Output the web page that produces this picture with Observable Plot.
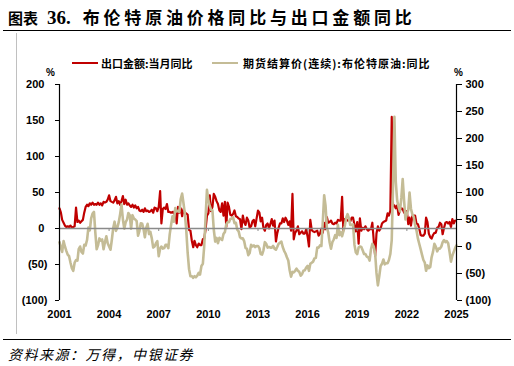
<!DOCTYPE html>
<html>
<head>
<meta charset="utf-8">
<script src="https://cdn.jsdelivr.net/npm/d3@7"></script>
<script src="https://cdn.jsdelivr.net/npm/@observablehq/plot@0.6"></script>
<style>
  html, body { margin: 0; padding: 0; background: #fff; }
  #wrap { position: relative; width: 514px; height: 366px; overflow: hidden; background: #fff; }
  .abs { position: absolute; }
  #title { left: 8px; top: 4px; white-space: nowrap; line-height: 22px; color: #000; }
  #title .a { font: bold 15px "Noto Sans CJK SC", sans-serif; }
  #title .b { font: bold 19px "Liberation Serif", serif; margin-left: 9px; }
  #title .c { font: bold 17px "Noto Sans CJK SC", sans-serif; letter-spacing: 3.8px; margin-left: 12px; }
  .leg { font: bold 11px "Noto Sans CJK SC", sans-serif; color: #000; white-space: nowrap; line-height: 14px; }
  .pct { font: bold 10px "Liberation Sans", Arial, sans-serif; color: #000; }
  #caption { left: 8px; top: 344px; font: italic 14px "Noto Sans CJK SC", sans-serif; letter-spacing: 1.5px; color: #000; white-space: nowrap; }
</style>
</head>
<body>
<div id="wrap">
  <div id="chart" class="abs" style="left:0;top:31px;"></div>
  <div id="title" class="abs"><span class="a">图表</span><span class="b">36.</span><span class="c">布伦特原油价格同比与出口金额同比</span></div>
  <div class="abs" style="left:3px;top:29.5px;width:508px;border-top:1.5px solid #000;"></div>
  <div class="abs" style="left:16px;top:33px;height:301px;border-left:1px solid #c0c0c0;"></div>
  <div class="abs" style="left:3px;top:338.5px;width:508px;border-top:1.5px solid #000;"></div>
  <div class="abs" style="left:72px;top:62px;width:26px;height:2px;background:#C00000;"></div>
  <div class="abs leg" id="leg1" style="left:101px;top:56px;"></div>
  <div class="abs" style="left:212px;top:61.5px;width:26px;height:2.5px;background:#C4BC96;"></div>
  <div class="abs leg" id="leg2" style="left:243px;top:56px;letter-spacing:1px;"></div>
  <div class="abs pct" style="left:46px;top:67px;">%</div>
  <div class="abs pct" style="left:454px;top:67px;">%</div>
  <div id="caption" class="abs">资料来源：万得，中银证券</div>
</div>
<script>
// Series names
const seriesNames = ["出口金额:当月同比", "期货结算价(连续):布伦特原油:同比"];

// 出口金额:当月同比 (%), monthly from 2001-01 (left axis)
const exportsYoY = [
  28, 22, 12, 8, 4, 2, 3, 2, 4, 1, 2, 3,          // 2001
  29, 9, 11, 8, 10, 12, 22, 30, 33, 31, 35, 33,   // 2002
  36, 33, 34, 33, 36, 33, 35, 32, 37, 36, 37, 40, // 2003
  46, 38, 37, 36, 39, 44, 35, 38, 33, 38, 45, 34, // 2004
  40, 33, 35, 32, 30, 33, 29, 32, 28, 30, 25, 24, // 2005
  26, 23, 28, 24, 25, 23, 24, 26, 22, 29, 28, 24, // 2006
  30, 52, 7, 27, 29, 27, 34, 23, 23, 22, 23, 21,  // 2007
  26, 7, 30, 22, 28, 17, 27, 21, 21, 19, -2, -3,  // 2008
  -17, -26, -17, -23, -26, -21, -23, -23, -15, -14, -1, 18, // 2009
  21, 46, 24, 30, 48, 44, 38, 34, 25, 23, 35, 18, // 2010
  37, 2, 36, 30, 19, 18, 20, 25, 17, 16, 14, 13,  // 2011
  -1, 18, 9, 5, 15, 11, 1, 3, 10, 12, 3, 14,      // 2012
  25, 22, 10, 15, 1, -3, 5, 7, 0, 6, 13, 4,       // 2013
  11, -18, -7, 1, 7, 7, 14, 9, 15, 11, 5, 10,     // 2014
  -3, 48, -15, -6, -3, 3, -8, -6, -4, -7, -7, -1, // 2015
  -11, -25, 12, -2, -4, -5, -4, -3, -10, -7, 0, -6, // 2016
  8, -1, 16, 8, 9, 11, 7, 6, 8, 7, 12, 11,        // 2017
  11, 44, -3, 13, 13, 11, 12, 10, 15, 15, 5, -4,  // 2018
  9, -21, 14, -3, 1, -1, 3, -1, -3, -1, -1, 8,    // 2019
  -17, -38, -7, 3, -3, 0, 7, 9, 10, 11, 21, 18,   // 2020
  25, 155, 31, 32, 28, 32, 19, 25, 28, 27, 22, 21, // 2021
  24, 6, 15, 4, 17, 18, 18, 7, 6, 0, -9, -10,     // 2022
  -10, -7, 15, 9, -7, -12, -14, -9, -6, -6, 1, 2, // 2023
  8, 6, -8, 1, 8, 9, 7, 9, 2, 13, 7, 11           // 2024
];

// 期货结算价(连续):布伦特原油:同比 (%), monthly from 2001-01 (right axis)
const brentYoY = [
  8, -2, -10, 10, 0, -8, -15, -18, -30, -40, -45, -30,   // 2001
  -25, -26, -5, 0, -10, -13, 3, 2, 12, 35, 30, 52,       // 2002
  61, 64, 28, -5, 2, 15, 11, 13, -5, 8, 19, 6,           // 2003
  0, -6, 12, 34, 46, 29, 35, 45, 60, 78, 50, 33,         // 2004
  45, 50, 62, 58, 33, 58, 52, 50, 47, 20, 29, 43,        // 2005
  42, 32, 17, 35, 42, 23, 27, 15, -2, 0, 6, 10,          // 2006
  -18, -4, 0, -4, -3, 3, 3, -3, 23, 40, 56, 46,          // 2007
  71, 65, 66, 64, 88, 98, 80, 60, 29, -12, -42, -55,     // 2008
  -55, -58, -55, -57, -54, -49, -52, -36, -32, 0, 55, 105, // 2009
  85, 75, 68, 67, 31, 9, 16, 6, 16, 14, 12, 23,          // 2010
  27, 41, 45, 45, 51, 52, 54, 43, 44, 31, 28, 17,        // 2011
  15, 15, 10, -3, -4, -16, -12, 3, 0, 2, -1, 1,          // 2012
  1, -3, -14, -15, -7, 8, 5, -2, -1, -2, -2, 1,          // 2013
  -4, -6, -1, 5, 7, 9, -1, -8, -13, -20, -26, -44,       // 2014
  -56, -47, -48, -45, -41, -45, -47, -54, -51, -45, -44, -39, // 2015
  -36, -45, -32, -30, -28, -22, -21, -2, -2, 2, 1, 45,   // 2016
  95, 75, 35, 26, 8, -4, 8, 13, 21, 16, 40, 21,          // 2017
  27, 19, 28, 38, 53, 60, 53, 40, 40, 41, 3, -11,        // 2018
  -14, -2, 0, -1, -7, -14, -14, -19, -20, -26, -5, 5,    // 2019
  0, -13, -49, -72, -55, -36, -32, -24, -33, -31, -31, -25, // 2020
  -14, 12, 110, 240, 120, 85, 74, 65, 90, 125, 85, 50,   // 2021
  60, 68, 100, 70, 60, 55, 40, 30, 15, 5, -5, -15,       // 2022
  -25, -30, -45, -35, -40, -38, -20, -10, 5, 0, -9, -4,  // 2023
  -4, 0, 8, 12, 8, 10, 6, -10, -28, -17, -10, -3,        // 2024
  2                                                      // 2025
];

const leftTicks = [-100, -50, 0, 50, 100, 150, 200];
const rightTicks = [-100, -50, 0, 50, 100, 150, 200, 250, 300];
const yearTicks = [2001, 2004, 2007, 2010, 2013, 2016, 2019, 2022, 2025];

document.getElementById("leg1").textContent = seriesNames[0];
document.getElementById("leg2").textContent = seriesNames[1];

// Map the right axis (-100..300) onto the left axis (-100..200)
const toLeft = r => -25 + 0.75 * r;
const fromLeft = v => Math.round((v + 25) / 0.75);
const fmt = v => v < 0 ? `(${Math.abs(v)})` : `${v}`;

const monthly = arr => arr.map((v, i) => ({date: new Date(Date.UTC(2001, i, 1)), v}));
const exportsData = monthly(exportsYoY);
const brentData = monthly(brentYoY);
const xStart = new Date(Date.UTC(2001, 0, 1));
const xEnd = new Date(Date.UTC(2025, 0, 1));
const yearDates = yearTicks.map(y => new Date(Date.UTC(y, 0, 1)));

const chart = Plot.plot({
  width: 514,
  height: 308,
  marginTop: 53,
  marginBottom: 39,
  marginLeft: 59,
  marginRight: 58,
  x: {type: "utc", domain: [xStart, xEnd]},
  y: {domain: [-100, 200]},
  style: {fontFamily: "'Liberation Sans', Arial, sans-serif", fontSize: "11px", fontWeight: "bold", color: "#000", background: "transparent", overflow: "visible"},
  marks: [
    Plot.axisY({ticks: leftTicks, anchor: "left", tickSize: 4, tickPadding: 8, tickFormat: v => v < 0 ? fmt(v) : fmt(v) + "\u2008", label: null}),
    Plot.axisY({ticks: rightTicks.map(toLeft), anchor: "right", tickSize: 5, tickPadding: 4, tickFormat: v => fmt(fromLeft(v)), label: null}),
    Plot.axisX({ticks: yearDates, anchor: "bottom", tickSize: 0, tickPadding: 10, tickFormat: d3.utcFormat("%Y"), label: null}),
    Plot.lineY(exportsData, {x: "date", y: "v", stroke: "#C00000", strokeWidth: 2.2}),
    Plot.lineY(brentData, {x: "date", y: d => toLeft(d.v), stroke: "#C4BC96", strokeWidth: 2.6}),
    Plot.ruleY([0], {stroke: "#8a8a8a", strokeWidth: 1.5}),
    Plot.ruleX(yearDates, {x: d => d, y1: 0, y2: 0, insetBottom: -3, stroke: "#8a8a8a", strokeWidth: 1}),
    Plot.ruleX([xStart, xEnd], {x: d => d, stroke: "#000", strokeWidth: 1.2})
  ]
});
document.getElementById("chart").appendChild(chart);
</script>
</body>
</html>
